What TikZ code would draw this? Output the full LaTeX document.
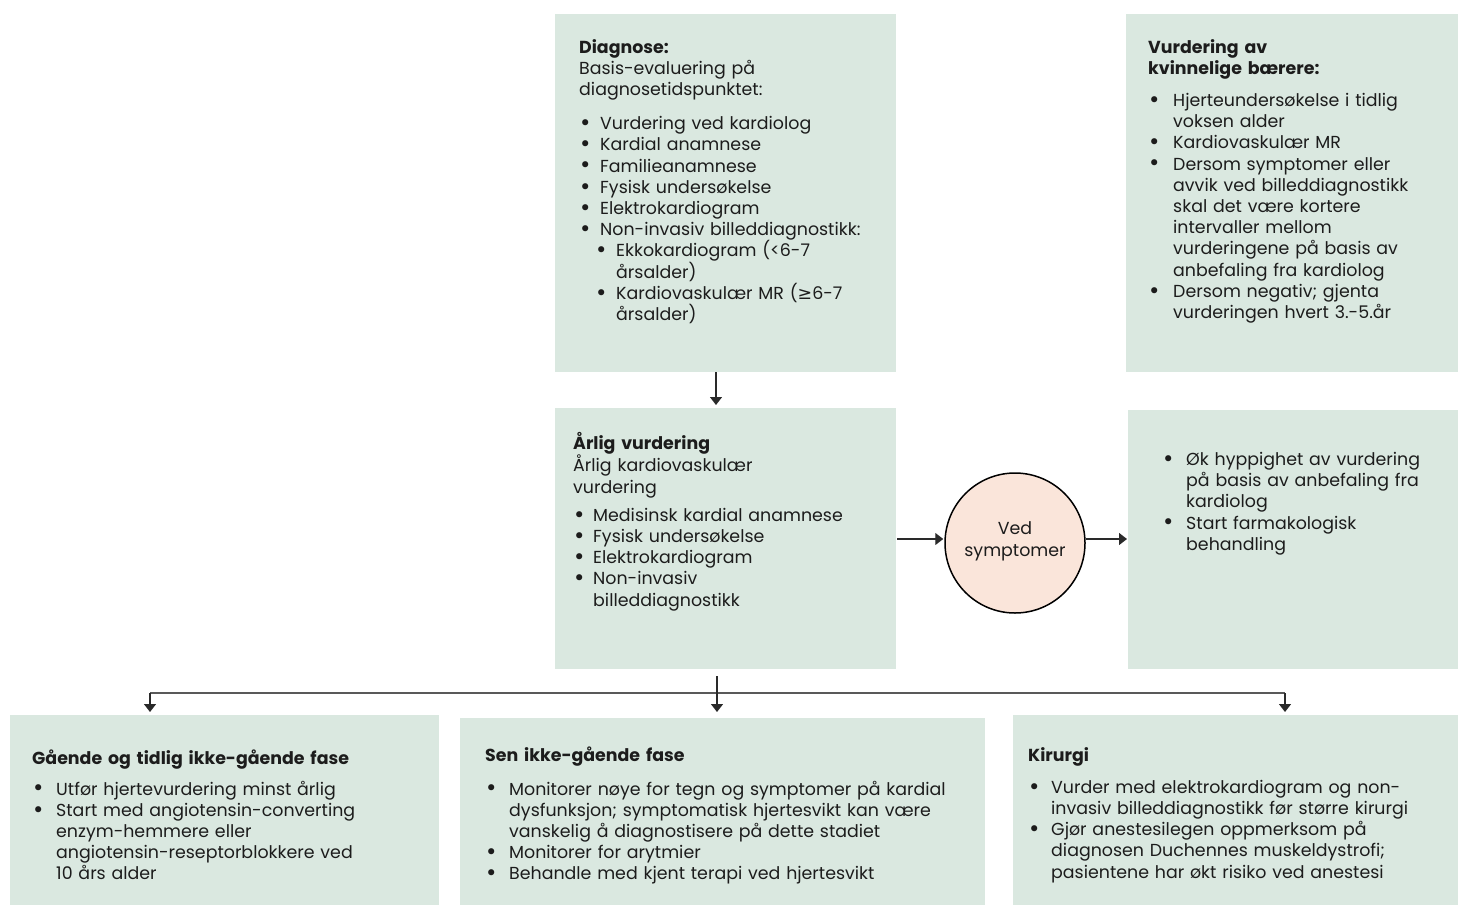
\documentclass[tikz,border=0pt]{standalone}
\usepackage{fontspec}
\setmainfont{Poppins}
\newfontfamily\symfont{DejaVu Sans}
\usetikzlibrary{arrows.meta}

\definecolor{boxfill}{HTML}{DAE8E0}
\definecolor{circfill}{HTML}{FAE5DA}
\definecolor{ink}{HTML}{1C1C1C}
\definecolor{wire}{HTML}{2A2A2A}

% bullet column width, set per text block
\newlength{\bw}
\newcommand{\bul}{\makebox[\bw][l]{\raisebox{-0.8pt}{\fontsize{21}{0}\symfont •}}}
\newcommand{\cont}{\hspace*{\bw}}
\newcommand{\bodyfont}{\fontsize{17.4}{21.2}\selectfont}

\begin{document}
\begin{tikzpicture}[x=1pt,y=-1pt,
  box/.style={fill=boxfill, draw=none, anchor=north west, inner sep=0pt, outer sep=0pt},
  txt/.style={anchor=north west, inner sep=0pt, text width=540pt, align=left, font=\bodyfont, text=ink},
  arr/.style={-{Triangle[width=12pt,length=8pt]}, line width=1.3pt, draw=wire},
  bus/.style={line width=1.3pt, draw=black!65}]

\useasboundingbox (0,0) rectangle (1458,905);

% background panels
\node[box, minimum width=341pt, minimum height=358pt] (diag)  at (555,14) {};
\node[box, minimum width=332pt, minimum height=358pt] (kvinn) at (1126,14) {};
\node[box, minimum width=341pt, minimum height=261pt] (arlig) at (555,408) {};
\node[box, minimum width=330pt, minimum height=259pt] (okt)   at (1128,410) {};
\node[box, minimum width=429pt, minimum height=190pt] (gaa)   at (10,715) {};
\node[box, minimum width=525pt, minimum height=187pt] (sen)   at (460,718) {};
\node[box, minimum width=445pt, minimum height=190pt] (kir)   at (1013,715) {};

% decision circle
\node[circle, draw=black, fill=circfill, line width=1.5pt, minimum size=140pt, inner sep=0pt,
      align=center, font=\bodyfont, text=ink] (ved) at (1015,543) {Ved\\symptomer\rule[-8pt]{0pt}{0pt}};

% panel texts
\node[txt] (diagtxt) at (579,39) {\noindent\rule{0pt}{12pt}\setlength{\bw}{21pt}%
  \textbf{Diagnose:}\\
  Basis-evaluering på\\
  diagnosetidspunktet:\\[13pt]
  \bul Vurdering ved kardiolog\\
  \bul Kardial anamnese\\
  \bul Familieanamnese\\
  \bul Fysisk undersøkelse\\
  \bul Elektrokardiogram\\
  \bul Non-invasiv billeddiagnostikk:\\
  \hspace*{16pt}\bul Ekkokardiogram (<6-7\\
  \hspace*{37pt}årsalder)\\
  \hspace*{16pt}\bul Kardiovaskulær MR ({\symfont ≥}6-7\\
  \hspace*{37pt}årsalder)};

\node[txt] (kvinntxt) at (1148,39) {\noindent\rule{0pt}{12pt}\setlength{\bw}{25pt}%
  \textbf{Vurdering av}\\
  \textbf{kvinnelige bærere:}\\[11pt]
  \bul Hjerteundersøkelse i tidlig\\
  \cont voksen alder\\
  \bul Kardiovaskulær MR\\
  \bul Dersom symptomer eller\\
  \cont avvik ved billeddiagnostikk\\
  \cont skal det være kortere\\
  \cont intervaller mellom\\
  \cont vurderingene på basis av\\
  \cont anbefaling fra kardiolog\\
  \bul Dersom negativ; gjenta\\
  \cont vurderingen hvert 3.-5.år};

\node[txt] (arligtxt) at (573,432) {\noindent\rule{0pt}{12pt}\setlength{\bw}{20pt}%
  \textbf{Årlig vurdering}\\
  Årlig kardiovaskulær\\
  vurdering\\[7pt]
  \bul Medisinsk kardial anamnese\\
  \bul Fysisk undersøkelse\\
  \bul Elektrokardiogram\\
  \bul Non-invasiv\\
  \cont billeddiagnostikk};

\node[txt] (okttxt) at (1162,452) {\noindent\rule{0pt}{12pt}\setlength{\bw}{24pt}%
  \bul Øk hyppighet av vurdering\\
  \cont på basis av anbefaling fra\\
  \cont kardiolog\\
  \bul Start farmakologisk\\
  \cont behandling};

\node[txt] (gaatxt) at (32,750) {\noindent\rule{0pt}{12pt}\setlength{\bw}{24pt}%
  \textbf{Gående og tidlig ikke-gående fase}\\[9pt]
  \bul Utfør hjertevurdering minst årlig\\
  \bul Start med angiotensin-converting\\
  \cont enzym-hemmere eller\\
  \cont angiotensin-reseptorblokkere ved\\
  \cont 10 års alder};

\node[txt] (sentxt) at (485,747) {\noindent\rule{0pt}{12pt}\setlength{\bw}{24pt}%
  \textbf{Sen ikke-gående fase}\\[12pt]
  \bul Monitorer nøye for tegn og symptomer på kardial\\
  \cont dysfunksjon; symptomatisk hjertesvikt kan være\\
  \cont vanskelig å diagnostisere på dette stadiet\\
  \bul Monitorer for arytmier\\
  \bul Behandle med kjent terapi ved hjertesvikt};

\node[txt] (kirtxt) at (1028,747) {\noindent\rule{0pt}{12pt}\setlength{\bw}{23pt}%
  \textbf{Kirurgi}\\[11pt]
  \bul Vurder med elektrokardiogram og non-\\
  \cont invasiv billeddiagnostikk før større kirurgi\\
  \bul Gjør anestesilegen oppmerksom på\\
  \cont diagnosen Duchennes muskeldystrofi;\\
  \cont pasientene har økt risiko ved anestesi};

% connector anchors
\coordinate (dcol) at (716,0);
\coordinate (hrow) at (0,539);
\coordinate (bs) at (717,676);
\coordinate (bL) at (150,693);
\coordinate (bR) at (1285,693);

% connectors
\draw[arr, shorten >=3pt] (diag.south -| dcol) -- (arlig.north -| dcol);
\draw[arr, shorten <=1pt, shorten >=1pt] (arlig.east |- hrow) -- (ved.west |- hrow);
\draw[arr, shorten >=1pt] (ved.east |- hrow) -- (okt.west |- hrow);
\draw[bus] (bL) -- (bR);
\draw[arr, shorten >=3pt] (bL) -- (bL |- gaa.north);
\draw[arr, shorten >=3pt] (bR) -- (bR |- kir.north);
\draw[arr, shorten >=6pt] (bs) -- (bs |- sen.north);
\end{tikzpicture}
\end{document}
